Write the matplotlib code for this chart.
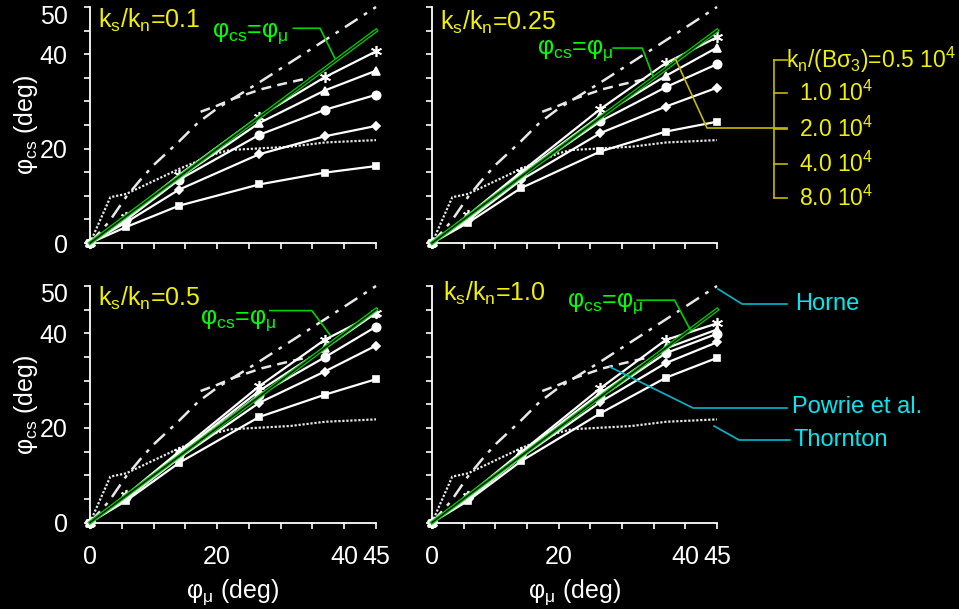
import matplotlib
matplotlib.use('Agg')
import matplotlib.pyplot as plt
from matplotlib.lines import Line2D
import matplotlib.transforms as mtransforms

W, H = 959, 609
plt.rcParams['font.family'] = ['Liberation Sans', 'DejaVu Sans']
plt.rcParams['mathtext.default'] = 'regular'

# ---------------- data ----------------
phi_mu = [0, 5.7, 14.0, 26.6, 36.9, 45.0]

# ks/kn = 0.1   (square, diamond, circle, triangle, star)
sq_01 = [0, 3.4, 7.9, 12.4, 14.9, 16.3]
di_01 = [0, 4.4, 11.3, 18.8, 22.6, 24.8]
ci_01 = [0, 4.9, 13.4, 22.9, 28.2, 31.4]
tr_01 = [0, 5.2, 13.8, 25.4, 32.3, 36.5]
st_01 = [0, 5.6, 14.4, 26.8, 35.1, 40.6]

# ks/kn = 0.25
sq_025 = [0, 4.3, 11.6, 19.4, 23.6, 25.7]
di_025 = [0, 4.8, 13.3, 23.3, 28.9, 32.9]
ci_025 = [0, 5.2, 14.2, 25.8, 33.0, 37.9]
tr_025 = [0, 5.5, 14.6, 27.0, 35.4, 41.4]
st_025 = [0, 5.9, 15.0, 28.4, 38.1, 43.6]

# ks/kn = 0.5
sq_05 = [0, 4.6, 12.6, 22.3, 27.0, 30.3]
di_05 = [0, 5.0, 13.6, 25.3, 31.9, 37.4]
ci_05 = [0, 5.3, 14.2, 27.0, 34.9, 41.4]
tr_05 = [0, 5.5, 14.6, 27.8, 36.8, 44.3]
st_05 = [0, 5.8, 15.0, 28.8, 38.6, 44.2]

# ks/kn = 1.0
sq_10 = [0, 4.6, 12.9, 23.1, 30.6, 34.8]
di_10 = [0, 5.0, 13.7, 25.5, 33.7, 38.1]
ci_10 = [0, 5.3, 14.2, 26.5, 35.8, 39.9]
tr_10 = [0, 5.5, 14.5, 27.4, 36.8, 40.8]
st_10 = [0, 5.7, 14.8, 28.4, 38.6, 42.1]

# reference relations
horne_x = [0, 3, 5.7, 8, 10, 14, 17, 20, 26.6, 37, 45]
horne_y = [0, 4.5, 9.8, 13.5, 16.5, 21.5, 25.5, 28.5, 34.0, 43.0, 50.0]
powrie_x = [17.4, 20, 22.6, 27, 30, 34.5]
powrie_y = [27.8, 29.1, 30.6, 32.6, 33.6, 35.0]
thornton_x = [0, 3.2, 5.7, 14.2, 20, 22, 31.5, 37, 45]
thornton_y = [0, 9.7, 10.4, 15.8, 19.0, 19.7, 20.4, 21.3, 21.8]
equal_x = [0, 45]
equal_y = [0, 45]

panel_labels = ['0.1', '0.25', '0.5', '1.0']
stiffness_labels = ['0.5', '1.0', '2.0', '4.0', '8.0']
x_ticks = [0, 5, 10, 15, 20, 25, 30, 35, 40, 45]
x_ticklabels = ['0', '', '', '', '20', '', '', '', '40', '45']
y_ticks = [0, 5, 10, 15, 20, 25, 30, 35, 40, 45, 50]
y_ticklabels = ['0', '', '', '', '20', '', '', '', '40', '', '50']

# ---------------- style ----------------
markers = ['s', 'D', 'o', '^', (6, 2, 0)]
msizes = [5, 4, 6, 5.5, 8]
YEL = '#F0F000'
YEL_LINE = '#C8B800'
GRN = '#00FF00'
GRN_LINE = '#00D000'
CYN = '#00E8F0'
CYN_LINE = '#00B8C8'

fig = plt.figure(figsize=(W / 100, H / 100), dpi=100, facecolor='black')


def px(x, y):
    return x / W, 1 - y / H


rects = [
    (90, 7, 376, 243),
    (432, 7, 717, 243),
    (90, 286, 376, 522.5),
    (432, 286, 717, 522.5),
]
curves = [
    [sq_01, di_01, ci_01, tr_01, st_01],
    [sq_025, di_025, ci_025, tr_025, st_025],
    [sq_05, di_05, ci_05, tr_05, st_05],
    [sq_10, di_10, ci_10, tr_10, st_10],
]
green_text_pos = [(25.2, 44.5), (22.6, 40.9), (23.3, 42.8), (27.3, 46.3)]
green_leaders = [
    ([32.0, 36.2, 38.5], [45.5, 45.5, 39.2]),
    ([28.6, 33.2, 34.9], [41.3, 41.3, 35.3]),
    ([28.3, 34.9, 37.8], [44.8, 44.8, 39.6]),
    ([32.4, 38.3, 40.8], [47.0, 47.0, 40.7]),
]
label_pos = [(98, 20), (440, 22), (98, 298), (443, 293)]

axes = []
for i, (x0, y0, x1, y1) in enumerate(rects):
    ax = fig.add_axes([x0 / W, 1 - y1 / H, (x1 - x0) / W, (y1 - y0) / H])
    ax.set_facecolor('black')
    ax.set_xlim(0, 45)
    ax.set_ylim(0, 50)
    for s in ['top', 'right']:
        ax.spines[s].set_visible(False)
    for s in ['left', 'bottom']:
        ax.spines[s].set_color('white')
        ax.spines[s].set_linewidth(1.3)
    ax.set_xticks(x_ticks)
    ax.set_yticks(y_ticks)
    ax.tick_params(colors='white', length=4, width=1.2, direction='out',
                   labelsize=18, pad=12)
    if i >= 2:
        ax.set_xticklabels(x_ticklabels)
        ax.set_xlabel(r'$\mathregular{φ_{μ}}$ (deg)', color='white',
                      fontsize=18, labelpad=6)
    else:
        ax.set_xticklabels([''] * len(x_ticks))
    if i % 2 == 0:
        ax.set_yticklabels(y_ticklabels)
        ax.set_ylabel(r'$\mathregular{φ_{cs}}$ (deg)', color='white',
                      fontsize=18, labelpad=0)
        # the top label sits a little below its tick, as in the original
        top_lab = ax.get_yticklabels()[-1]
        top_lab.set_transform(top_lab.get_transform() +
                              mtransforms.ScaledTranslation(0, -7 / 100, fig.dpi_scale_trans))
    else:
        ax.set_yticklabels([''] * len(y_ticks))

    # reference relations
    ax.plot(horne_x, horne_y, color='#E8E8E8', lw=1.8,
            linestyle=(0, (6, 3, 1.5, 3)), clip_on=False, zorder=2)
    ax.plot(powrie_x, powrie_y, color='#E8E8E8', lw=1.8,
            linestyle=(0, (4, 2.5)), clip_on=False, zorder=2)
    ax.plot(thornton_x, thornton_y, color='#E8E8E8', lw=1.6,
            linestyle=(0, (1, 0.8)), clip_on=False, zorder=2)

    # simulation curves
    for yv, m, ms in zip(curves[i], markers, msizes):
        ax.plot(phi_mu, yv, color='white', lw=1.6, marker=m, ms=ms,
                mfc='white', mec='white', mew=1.2, clip_on=False, zorder=3)

    # phi_cs = phi_mu (double green line)
    ax.plot(equal_x, equal_y, color=GRN_LINE, lw=2.8, clip_on=False, zorder=4)
    ax.plot(equal_x, equal_y, color='black', lw=1.0, clip_on=False, zorder=4.1)

    gx, gy = green_text_pos[i]
    ax.text(gx, gy, r'$\mathregular{φ_{cs}}$=$\mathregular{φ_{μ}}$', color=GRN,
            fontsize=18, ha='center', va='center', zorder=6)
    lx, ly = green_leaders[i]
    ax.plot(lx, ly, color=GRN_LINE, lw=1.2, clip_on=False, zorder=5)

    tx, ty = label_pos[i]
    fig.text(*px(tx, ty), r'$\mathregular{k_s/k_n}$=' + panel_labels[i],
             color=YEL, fontsize=18, ha='left', va='center')
    axes.append(ax)

# ---------------- annotations in figure pixels ----------------
def fline(xs, ys, color, lw=1.2):
    fig.add_artist(Line2D([x / W for x in xs], [1 - y / H for y in ys],
                          color=color, lw=lw, transform=fig.transFigure))

# yellow bracket for kn/(B sigma3)
leg_y = [60, 93, 129, 164, 198]
fline([774, 774], [leg_y[0], leg_y[-1]], YEL_LINE)
for yy in leg_y:
    fline([774, 787], [yy, yy], YEL_LINE)
fline([675, 707, 787], [58, 128, 128], YEL_LINE)
for k, (yy, lab) in enumerate(zip(leg_y, stiffness_labels)):
    if k == 0:
        s = r'$\mathregular{k_n/(Bσ_3)}$=' + lab + r' $\mathregular{10^4}$'
        fig.text(*px(786, yy), s, color=YEL, fontsize=16.5, ha='left', va='center')
    else:
        s = lab + r' $\mathregular{10^4}$'
        fig.text(*px(799, yy), s, color=YEL, fontsize=16.5, ha='left', va='center')

# cyan labels
fline([718, 742, 787], [289, 304, 304], CYN_LINE)
fig.text(*px(795, 304), 'Horne', color=CYN, fontsize=17, ha='left', va='center')
fline([610, 693, 787], [367, 408, 408], CYN_LINE)
fig.text(*px(792, 407), 'Powrie et al.', color=CYN, fontsize=17, ha='left', va='center')
fline([714, 739, 790], [426, 440, 440], CYN_LINE)
fig.text(*px(793, 440), 'Thornton', color=CYN, fontsize=17, ha='left', va='center')

fig.savefig('out.png', dpi=100, facecolor='black')
